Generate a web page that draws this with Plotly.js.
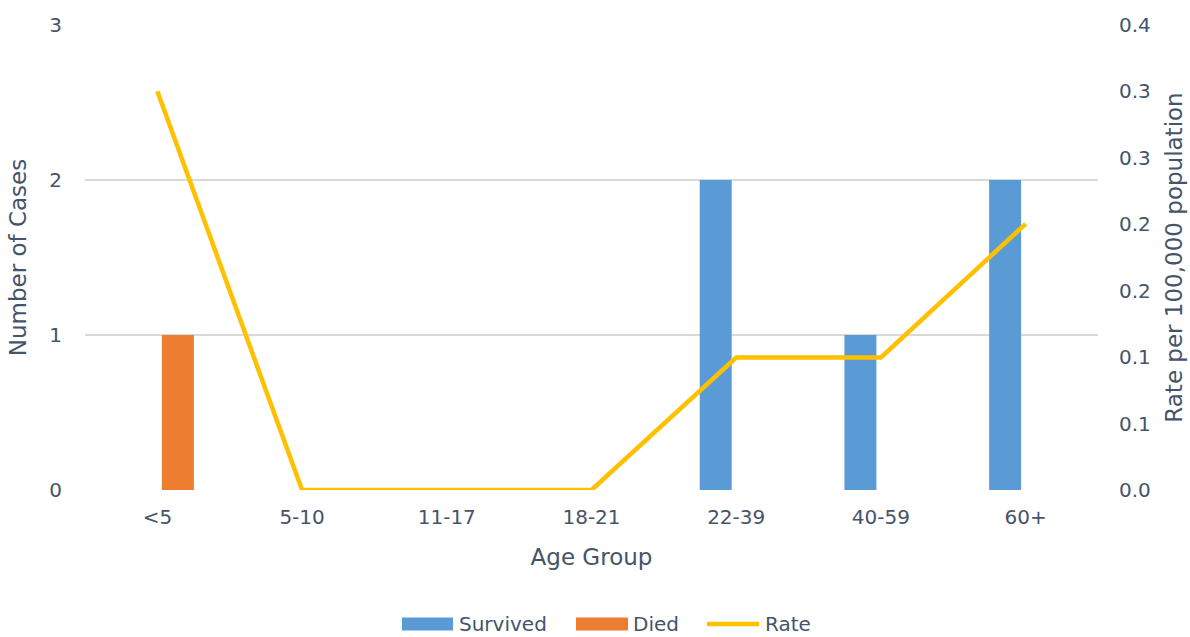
<!DOCTYPE html>
<html>
<head>
<meta charset="utf-8">
<script src="https://cdn.plot.ly/plotly-3.0.1.min.js"></script>
<style>html,body{margin:0;padding:0;background:#fff;}#chart{width:1190px;height:637px;}</style>
</head>
<body>
<div id="chart"></div>
<script>
const categories = ['<5','5-10','11-17','18-21','22-39','40-59','60+'];
const survived = [0, 0, 0, 0, 2, 1, 2];
const died = [1, 0, 0, 0, 0, 0, 0];
const rate = [0.343, 0, 0, 0, 0.114, 0.114, 0.229];
const leftTicks = [0, 1, 2, 3];
const rightTickText = ['0.0','0.1','0.1','0.2','0.2','0.3','0.3','0.4'];
const rightMax = 0.4;
const rightTickVals = rightTickText.map((t, i) => i * rightMax / (rightTickText.length - 1));
const seriesNames = ['Survived', 'Died', 'Rate'];
const seriesColors = ['#5B9BD5', '#ED7D31', '#FFC000'];

const txt = '#44546A';
const fontFam = '"DejaVu Sans", Verdana, sans-serif';

const traces = [
  {type:'bar', name:seriesNames[0], x:categories, y:survived, marker:{color:seriesColors[0]}, yaxis:'y'},
  {type:'bar', name:seriesNames[1], x:categories, y:died, marker:{color:seriesColors[1]}, yaxis:'y'},
  {type:'scatter', mode:'lines', name:seriesNames[2], x:categories, y:rate, yaxis:'y2',
   line:{color:seriesColors[2], width:4.5}}
];

// custom legend (paper coords: plot spans x 85..1098, y 25..490 px)
const W = 1013, H = 465;
const px = v => (v - 85) / W;
const py = v => (490 - v) / H;
const legY = 624;
const shapes = [
  {type:'rect', xref:'paper', yref:'paper', x0:px(402), x1:px(453), y0:py(legY+6.5), y1:py(legY-6.5),
   fillcolor:seriesColors[0], line:{width:0}},
  {type:'rect', xref:'paper', yref:'paper', x0:px(576), x1:px(628), y0:py(legY+6.5), y1:py(legY-6.5),
   fillcolor:seriesColors[1], line:{width:0}},
  {type:'line', xref:'paper', yref:'paper', x0:px(707), x1:px(759), y0:py(legY), y1:py(legY),
   line:{color:seriesColors[2], width:4.5}}
];
const legendTextX = [457, 631, 763];
const annotations = seriesNames.map((n, i) => ({
  xref:'paper', yref:'paper', x:px(legendTextX[i]), y:py(legY), xanchor:'left', yanchor:'middle',
  text:n, showarrow:false, font:{size:20, color:txt, family:fontFam}
}));

const layout = {
  width:1190, height:637,
  margin:{l:85, r:92, t:25, b:147},
  paper_bgcolor:'#fff', plot_bgcolor:'#fff',
  font:{family:fontFam, color:txt, size:20},
  barmode:'group', bargap:0.433, bargroupgap:0.22,
  showlegend:false,
  shapes:shapes, annotations:annotations,
  xaxis:{type:'category', showgrid:false, zeroline:false, showline:false, ticks:'',
         tickfont:{size:20, color:txt}, ticklabelstandoff:13,
         title:{text:'Age Group', font:{size:23, color:txt}, standoff:20}},
  yaxis:{range:[0,3], tickvals:leftTicks, showgrid:true, gridcolor:'#D9D9D9', gridwidth:2,
         zeroline:false, showline:false, ticks:'',
         tickfont:{size:20, color:txt}, ticklabelstandoff:22,
         title:{text:'Number of Cases', font:{size:23, color:txt}, standoff:16}},
  yaxis2:{range:[0,rightMax], overlaying:'y', side:'right', tickvals:rightTickVals, ticktext:rightTickText,
          showgrid:false, zeroline:false, showline:false, ticks:'',
          tickfont:{size:20, color:txt}, ticklabelstandoff:20,
          title:{text:'Rate per 100,000 population', font:{size:23, color:txt}, standoff:16}}
};

Plotly.newPlot('chart', traces, layout, {displayModeBar:false, staticPlot:true});
</script>
</body>
</html>
